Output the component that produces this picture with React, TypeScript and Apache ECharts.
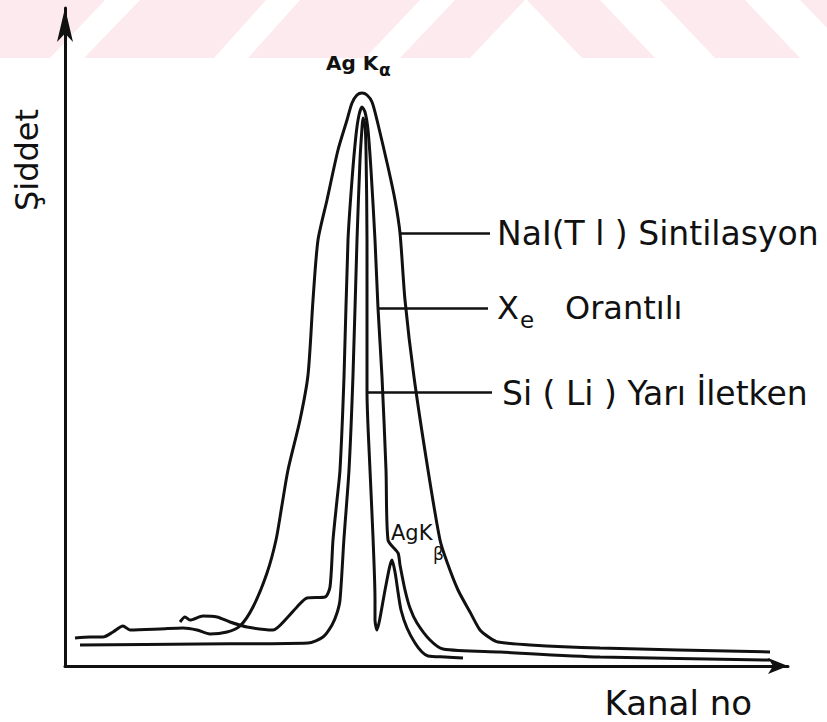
import React, { useEffect, useRef } from "react";
import * as echarts from "echarts";

// Channel (x) and intensity (y) readings for each detector curve
const naiSpectrum: [number, number][] = [
  [10, 28], [25, 29], [38, 29], [48, 34], [58, 40], [65, 36], [95, 37], [118, 38],
  [132, 36], [145, 32], [162, 34], [175, 40], [188, 59], [202, 93], [211, 126],
  [217, 161], [223, 196], [235, 246], [243, 291], [248, 366], [253, 426], [262, 466],
  [273, 516], [282, 546], [287, 563], [292, 571], [297, 573], [302, 571], [307, 564],
  [312, 546], [323, 499], [330, 466], [335, 433], [340, 366], [349, 289], [363, 196],
  [375, 126], [382, 104], [393, 76], [405, 54], [415, 36], [425, 28], [433, 24],
  [465, 21], [535, 18], [705, 14],
];

const xeSpectrum: [number, number][] = [
  [115, 44], [120, 49], [125, 46], [138, 50], [152, 49], [165, 44], [182, 39],
  [208, 36], [222, 48], [232, 59], [242, 68], [260, 69], [265, 79], [268, 126],
  [272, 166], [275, 196], [279, 289], [283, 426], [287, 486], [291, 531], [294, 551],
  [297, 559], [300, 554], [303, 536], [306, 496], [310, 426], [313, 358], [317, 289],
  [321, 196], [323, 126], [333, 113], [335, 101], [340, 76], [345, 58], [352, 43],
  [365, 26], [378, 17], [435, 14], [535, 9], [705, 6],
];

const siSpectrum: [number, number][] = [
  [15, 21], [135, 22], [243, 23], [258, 29], [267, 41], [272, 53], [275, 66],
  [279, 128], [284, 196], [288, 291], [292, 426], [295, 506], [297, 538], [298, 548],
  [300, 541], [301, 516], [302, 426], [302, 336], [302, 274], [305, 196], [308, 129],
  [310, 66], [310, 46], [312, 36], [315, 48], [321, 81], [327, 106], [330, 94],
  [333, 74], [336, 56], [342, 38], [350, 23], [357, 14], [363, 10], [380, 9], [398, 8],
];

// Leader lines from curves to their labels: [start, end]
const naiLeader: [number, number][] = [[335, 433], [425, 433]];
const xeLeader: [number, number][] = [[313, 358], [423, 358]];
const siLeader: [number, number][] = [[302, 274], [427, 274]];

const labelNaI = "NaI(T l ) Sintilasyon";
const labelXeMain = "X";
const labelXeSub = "e";
const labelXeRest = "Orantılı";
const labelSi = "Si ( Li ) Yarı İletken";
const yTitle = "Şiddet";
const xTitle = "Kanal no";

const INK = "#111";
const FONT = "DejaVu Sans";
const PINK = "#fdeaee";

function leaderMark(pts: [number, number][]) {
  return {
    silent: true,
    symbol: ["none", "none"],
    lineStyle: { color: INK, width: 2.5, type: "solid" },
    label: { show: false },
    emphasis: { disabled: true },
    data: [[{ coord: pts[0] }, { coord: pts[1] }]],
  };
}

function curve(name: string, data: [number, number][], leader: [number, number][]) {
  return {
    name,
    type: "line",
    data,
    showSymbol: false,
    smooth: 0.25,
    lineStyle: { color: INK, width: 3 },
    itemStyle: { color: INK },
    emphasis: { disabled: true },
    markLine: leaderMark(leader),
    z: 3,
  };
}

export default function App() {
  const ref = useRef<HTMLDivElement>(null);
  useEffect(() => {
    if (!ref.current) return;
    const chart = echarts.init(ref.current, null, { renderer: "svg" });
    const txt = (text: string, x: number, y: number, size: number, extra: any = {}) => ({
      type: "text",
      x,
      y,
      z: 10,
      ...extra,
      style: {
        text,
        fill: INK,
        font: `${extra.weight || "normal"} ${size}px "${FONT}"`,
        textAlign: extra.align || "left",
        textVerticalAlign: "middle",
      },
    });
    chart.setOption({
      animation: false,
      backgroundColor: "#ffffff",
      grid: { left: 65, top: 8, width: 723, height: 658 },
      xAxis: {
        type: "value",
        min: 0,
        max: 723,
        splitLine: { show: false },
        axisTick: { show: false },
        axisLabel: { show: false },
        axisLine: {
          show: true,
          symbol: ["none", "arrow"],
          symbolSize: [12, 20],
          lineStyle: { color: INK, width: 3 },
        },
      },
      yAxis: {
        type: "value",
        min: 0,
        max: 658,
        splitLine: { show: false },
        axisTick: { show: false },
        axisLabel: { show: false },
        axisLine: {
          show: true,
          symbol: ["none", "arrow"],
          symbolSize: [12, 34],
          lineStyle: { color: INK, width: 3 },
        },
      },
      series: [
        curve("NaI(Tl)", naiSpectrum, naiLeader),
        curve("Xe", xeSpectrum, xeLeader),
        curve("Si(Li)", siSpectrum, siLeader),
      ],
      graphic: [
        { type: "polygon", z: -1, shape: { points: [[0, 0], [105, 0], [50, 58], [0, 58]] }, style: { fill: PINK } },
        { type: "polygon", z: -1, shape: { points: [[140, 0], [266, 0], [214, 58], [84, 58]] }, style: { fill: PINK } },
        { type: "polygon", z: -1, shape: { points: [[300, 0], [420, 0], [365, 58], [248, 58]] }, style: { fill: PINK } },
        { type: "polygon", z: -1, shape: { points: [[455, 0], [525, 0], [470, 58], [400, 58]] }, style: { fill: PINK } },
        { type: "polygon", z: -1, shape: { points: [[527, 0], [600, 0], [655, 58], [582, 58]] }, style: { fill: PINK } },
        { type: "polygon", z: -1, shape: { points: [[660, 0], [745, 0], [800, 58], [715, 58]] }, style: { fill: PINK } },
        { type: "polygon", z: -1, shape: { points: [[800, 0], [827, 0], [827, 28]] }, style: { fill: PINK } },
        txt("Ag K", 326, 63, 20, { weight: "bold" }),
        txt("α", 379, 70, 17, { weight: "bold" }),
        txt("AgK", 391, 533, 21),
        txt("β", 433, 554, 17),
        txt(labelNaI, 497, 233, 33),
        txt(labelXeMain, 497, 308, 32),
        txt(labelXeSub, 520, 320, 23),
        txt(labelXeRest, 565, 308, 32),
        txt(labelSi, 502, 393, 33),
        txt(yTitle, 27, 160, 32, { align: "center", rotation: Math.PI / 2 }),
        txt(xTitle, 752, 703, 34, { align: "right" }),
      ],
    });
    return () => chart.dispose();
  }, []);
  return (
    <div
      ref={ref}
      style={{ position: "absolute", left: 0, top: 0, width: 827, height: 722 }}
    />
  );
}
